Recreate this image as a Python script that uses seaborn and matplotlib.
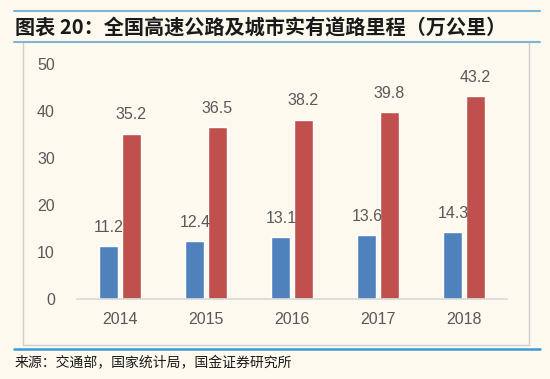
import pandas as pd
import matplotlib.pyplot as plt
import seaborn as sns
from matplotlib.lines import Line2D

# data
years = ['2014', '2015', '2016', '2017', '2018']
highway = [11.2, 12.4, 13.1, 13.6, 14.3]     # 高速公路
city_road = [35.2, 36.5, 38.2, 39.8, 43.2]   # 城市道路

df = pd.DataFrame({
    'year': years * 2,
    'value': highway + city_road,
    'kind': ['高速公路'] * len(years) + ['城市道路'] * len(years),
})

bg = '#FDF9EF'
txt = '#595959'

sns.set_theme(style='white')
plt.rcParams['font.family'] = ['Liberation Sans', 'Noto Sans CJK SC', 'DejaVu Sans']

fig = plt.figure(figsize=(5.5, 3.79), dpi=100, facecolor=bg)
ax = fig.add_axes([0.14, 0.211, 0.782, 0.62])
ax.set_facecolor(bg)

sns.barplot(data=df, x='year', y='value', hue='kind',
            palette=['#4F81BD', '#C0504D'], saturation=1,
            width=0.52, gap=0.15, legend=False, ax=ax)

for cont in ax.containers:
    ax.bar_label(cont, fmt='%.1f', padding=8, fontsize=11.5, color=txt)

ax.set_ylim(0, 50)
ax.set_yticks(range(0, 51, 10))
ax.set_xlim(-0.5, 4.5)
ax.set_xlabel('')
ax.set_ylabel('')
for s in ['top', 'right', 'left']:
    ax.spines[s].set_visible(False)
ax.spines['bottom'].set_color('#D9D9D9')
ax.tick_params(axis='both', length=0, labelsize=11.5, colors=txt)
ax.tick_params(axis='x', pad=9)
ax.tick_params(axis='y', pad=16)

W, H = 550, 379
def hline(y, x0, x1, color, lw):
    fig.add_artist(Line2D([x0 / W, x1 / W], [1 - y / H, 1 - y / H],
                          transform=fig.transFigure, color=color, lw=lw))

def vline(x, y0, y1, color, lw):
    fig.add_artist(Line2D([x / W, x / W], [1 - y0 / H, 1 - y1 / H],
                          transform=fig.transFigure, color=color, lw=lw))

# inner chart frame
vline(23, 42, 345, '#D0D0D0', 1)
vline(529, 42, 345, '#D0D0D0', 1)
hline(345, 23, 529, '#D0D0D0', 1)

# blue rules
hline(11, 14, 540, '#7FB4D6', 1.5)
hline(42, 14, 540, '#7FB4D6', 1.5)
hline(349, 14, 540, '#3A9AD9', 1.8)

fig.text(15 / W, 1 - 27 / H, '图表 20：全国高速公路及城市实有道路里程（万公里）',
         fontsize=14.5, fontweight='bold', fontstyle='italic', color='#1A1A1A',
         family=['Noto Sans CJK SC', 'DejaVu Sans'], va='center', ha='left')
fig.text(15 / W, 1 - 363 / H, '来源：交通部，国家统计局，国金证券研究所',
         fontsize=10, color='#1A1A1A',
         family=['Noto Sans CJK SC', 'DejaVu Sans'], va='center', ha='left')

fig.savefig('out.png', dpi=100, facecolor=bg)
